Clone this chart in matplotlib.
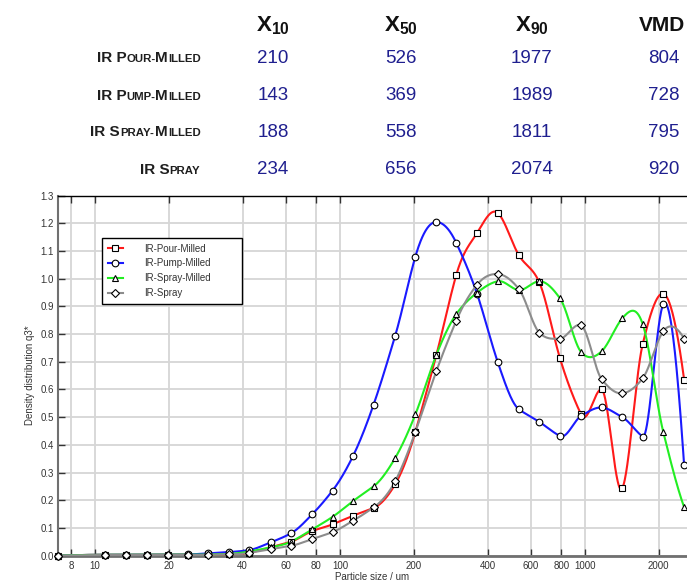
import numpy as np
import matplotlib
matplotlib.use("Agg")
import matplotlib.pyplot as plt
from matplotlib.lines import Line2D
from matplotlib import font_manager
from matplotlib.ft2font import FT2Font, LOAD_NO_HINTING

plt.rcParams['font.family'] = ['Liberation Sans', 'DejaVu Sans']
plt.rcParams['mathtext.fontset'] = 'custom'
plt.rcParams['mathtext.rm'] = 'Liberation Sans'
plt.rcParams['mathtext.bf'] = 'Liberation Sans:bold'

W, H = 687, 581

# -- summary table
samples = ["IR Pour-Milled", "IR Pump-Milled", "IR Spray-Milled", "IR Spray"]
columns = [r"$\mathbf{X_{10}}$", r"$\mathbf{X_{50}}$", r"$\mathbf{X_{90}}$", "VMD"]
x10 = [210, 143, 188, 234]
x50 = [526, 369, 558, 656]
x90 = [1977, 1989, 1811, 2074]
vmd = [804, 728, 795, 920]

# -- size classes (um) and density distribution q3*
sizes = [7.06, 11.0, 13.4, 16.3, 19.8, 24.0, 28.9, 35.2, 42.6, 52.1,
         62.9, 77.1, 93.2, 113, 137, 168, 203, 247, 298, 363,
         440, 538, 651, 791, 963, 1170, 1420, 1720, 2090, 2540]
pour = [0.0, 0.003, 0.003, 0.003, 0.003, 0.003, 0.004, 0.005, 0.01, 0.03,
        0.05, 0.089, 0.113, 0.144, 0.172, 0.258, 0.447, 0.723, 1.013, 1.166,
        1.238, 1.084, 0.987, 0.712, 0.511, 0.60, 0.243, 0.763, 0.946, 0.636]
pump = [0.0, 0.003, 0.003, 0.003, 0.003, 0.004, 0.008, 0.013, 0.02, 0.048,
        0.08, 0.15, 0.235, 0.36, 0.545, 0.795, 1.08, 1.205, 1.13, 0.944,
        0.70, 0.528, 0.483, 0.432, 0.504, 0.535, 0.50, 0.43, 0.908, 0.327]
spray_milled = [0.0, 0.003, 0.003, 0.003, 0.003, 0.003, 0.004, 0.006, 0.015, 0.03,
                0.05, 0.095, 0.14, 0.197, 0.25, 0.353, 0.51, 0.724, 0.872, 0.95,
                0.991, 0.959, 0.991, 0.929, 0.736, 0.738, 0.857, 0.837, 0.445, 0.175]
spray = [0.0, 0.002, 0.002, 0.002, 0.002, 0.002, 0.003, 0.004, 0.01, 0.023,
         0.035, 0.06, 0.085, 0.126, 0.174, 0.269, 0.447, 0.665, 0.848, 0.979,
         1.017, 0.962, 0.805, 0.784, 0.832, 0.637, 0.586, 0.64, 0.811, 0.784]

series = [("IR-Pour-Milled", pour, "#ff1a1a", "s", 4.6),
          ("IR-Pump-Milled", pump, "#1a1aff", "o", 4.8),
          ("IR-Spray-Milled", spray_milled, "#22ee22", "^", 5.0),
          ("IR-Spray", spray, "#8c8c8c", "D", 3.8)]

xticks = [8, 10, 20, 40, 60, 80, 100, 200, 400, 600, 800, 1000, 2000]


def akima(x, y, xs):
    # akima spline through the points, evaluated at xs
    x = np.asarray(x, float); y = np.asarray(y, float)
    n = len(x)
    m = np.diff(y) / np.diff(x)
    me = np.empty(n + 3)
    me[2:-2] = m
    me[1] = 2 * m[0] - m[1]; me[0] = 2 * me[1] - m[0]
    me[-2] = 2 * m[-1] - m[-2]; me[-1] = 2 * me[-2] - m[-1]
    dm = np.abs(np.diff(me))
    f1, f2 = dm[2:], dm[:n]
    den = f1 + f2
    t = np.where(den > 1e-12,
                 (f1 * me[1:n + 1] + f2 * me[2:n + 2]) / np.where(den > 1e-12, den, 1),
                 0.5 * (me[1:n + 1] + me[2:n + 2]))
    k = np.clip(np.searchsorted(x, xs) - 1, 0, n - 2)
    h = x[k + 1] - x[k]
    s = (xs - x[k]) / h
    h00 = 2 * s**3 - 3 * s**2 + 1; h10 = s**3 - 2 * s**2 + s
    h01 = -2 * s**3 + 3 * s**2; h11 = s**3 - s**2
    return h00 * y[k] + h10 * h * t[k] + h01 * y[k + 1] + h11 * h * t[k + 1]


def px(x, y):
    return x / W, 1 - y / H


bold_path = font_manager.findfont(font_manager.FontProperties(family="Liberation Sans",
                                                              weight="bold"))


def advance(s, size):
    f = FT2Font(bold_path)
    f.set_size(size, 100)
    return sum(f.load_char(ord(c), flags=LOAD_NO_HINTING).linearHoriAdvance / 65536.0
               for c in s)


def smallcaps(fig, xr, yb, label, big=11, small=8.2):
    runs = []
    for ch in label:
        sz = small if ch.islower() else big
        if ch in "- " and runs:
            sz = runs[-1][1]
        if runs and runs[-1][1] == sz:
            runs[-1][0] += ch
        else:
            runs.append([ch, sz])
    runs = [(s.upper(), sz) for s, sz in runs]
    widths = [advance(s, sz) for s, sz in runs]
    x = xr - sum(widths)
    for (s, sz), w in zip(runs, widths):
        fig.text(*px(x, yb), s, fontsize=sz, fontweight="bold", color="#1e1e1e",
                 ha="left", va="baseline")
        x += w


fig = plt.figure(figsize=(W / 100, H / 100), dpi=100)

# -- table
col_x = [273, 401, 532, 664]
row_y = [58.5, 95.5, 132.5, 169.5]
for cx, c in zip(col_x[:3], columns[:3]):
    fig.text(*px(cx, 31), c, fontsize=16, fontweight="bold", ha="center",
             va="baseline", color="#111111")
fig.text(*px(685, 31), columns[3], fontsize=15, fontweight="bold", ha="right",
         va="baseline", color="#111111")
for i, name in enumerate(samples):
    smallcaps(fig, 201, row_y[i] + 4, name)
    for cx, vals in zip(col_x, [x10, x50, x90, vmd]):
        fig.text(*px(cx, row_y[i]), str(vals[i]), fontsize=13.5, ha="center",
                 va="center", color="#1f1f8f")

# -- chart
ax = fig.add_axes([58 / W, 1 - 555.6 / H, 1 - 58 / W, (555.6 - 195.7) / H])
ax.set_xscale("log")
xs = np.logspace(np.log10(sizes[0]), np.log10(sizes[-1]), 1500)
lx = np.log10(sizes)
handles = []
for name, vals, col, mk, ms in series:
    ys = akima(lx, vals, np.log10(xs))
    ax.plot(xs, ys, color=col, lw=1.5, zorder=3)
    handles.append(Line2D([], [], color=col, lw=1.5, marker=mk, ms=ms,
                          mfc="white", mec="black", mew=0.8, label=name))
for name, vals, col, mk, ms in series:
    ax.plot(sizes, vals, ls="none", marker=mk, ms=ms, mfc="white",
            mec="black", mew=0.8, zorder=4, clip_on=False)

ax.set_xlim(7.05, 2610)
ax.set_ylim(0, 1.3)
ax.set_xticks(xticks)
ax.set_xticklabels([str(v) for v in xticks])
ax.xaxis.set_minor_locator(matplotlib.ticker.NullLocator())
ax.set_yticks(np.arange(0, 1.31, 0.1))
ax.set_yticklabels(["%.1f" % v for v in np.arange(0, 1.31, 0.1)])
ax.grid(True, color="#d6d6d6", lw=1.3, zorder=0)
ax.set_axisbelow(True)
ax.tick_params(axis="both", direction="in", length=5, width=1, color="#333333",
               labelsize=7, labelcolor="#333333", pad=3)
ax.tick_params(axis="x", top=True, pad=4)
ax.spines["right"].set_visible(False)
ax.spines["top"].set_color("black")
ax.spines["top"].set_linewidth(1)
ax.spines["left"].set_color("#707070")
ax.spines["left"].set_linewidth(1.5)
ax.spines["bottom"].set_color("#707070")
ax.spines["bottom"].set_linewidth(2)

ax.set_xlabel("Particle size / um", fontsize=7, color="#333333", labelpad=0.5)
ax.set_ylabel("Density distribution q3*", fontsize=7, color="#333333", labelpad=4)

x0, y0 = px(102.3, 301)
x1, y1 = px(242.3, 237.7)
leg = ax.legend(handles=handles, loc="upper left", bbox_to_anchor=(x0, y0, x1 - x0, y1 - y0),
                bbox_transform=fig.transFigure, mode="expand", borderaxespad=0,
                fontsize=7, handlelength=1.5, handletextpad=2.2, labelspacing=0.5,
                borderpad=0.6, fancybox=False, framealpha=1, edgecolor="black")
leg.get_frame().set_linewidth(1)
for t in leg.get_texts():
    t.set_color("#333333")

fig.savefig("out.png", dpi=100)
